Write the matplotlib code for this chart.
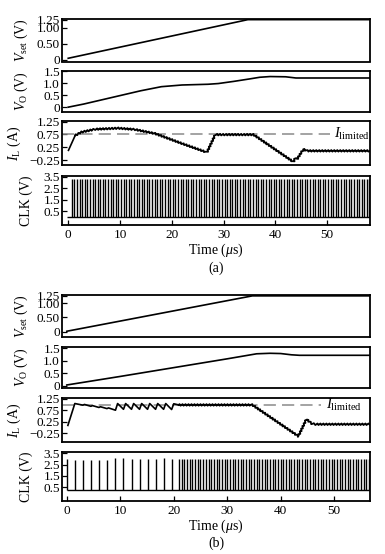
import numpy as np
import matplotlib
matplotlib.use("Agg")
import matplotlib.pyplot as plt

plt.rcParams["font.family"] = ["Liberation Serif", "DejaVu Serif"]
plt.rcParams["mathtext.fontset"] = "custom"
plt.rcParams["mathtext.rm"] = "Liberation Serif"
plt.rcParams["mathtext.it"] = "Liberation Serif:italic"
plt.rcParams["font.size"] = 9

# ---------------- data ----------------
# (a)
a_xlim = (-1.2, 58.3)
a_vset_t = [0, 34.7, 58.3]
a_vset_v = [0.05, 1.25, 1.25]
a_vo_t = [0, 3, 6, 10, 14, 18, 22, 27, 29, 32, 35, 37, 39, 42, 44, 58.3]
a_vo_v = [0.0, 0.13, 0.28, 0.48, 0.68, 0.85, 0.92, 0.95, 0.98, 1.07, 1.17, 1.24, 1.27, 1.26, 1.21, 1.21]
a_il_rise_t = [0.05, 1.35]
a_il_rise_i = [0.13, 0.71]
a_il_t = [1.35, 2.6, 5.2, 9.7, 12.9, 16.8, 21.9, 26.8, 28.4, 35.8, 43.5, 43.9, 44.2, 45.4, 46.2, 58.3]
a_il_i = [0.71, 0.84, 0.95, 0.99, 0.94, 0.78, 0.40, 0.05, 0.74, 0.74, -0.32, -0.16, -0.22, 0.17, 0.11, 0.11]
a_ilim = 0.76
a_ilim_end = 50.5
a_clk_period = 0.5
a_clk_start = 0.7
a_clk_low, a_clk_high = 0.03, 3.3

# (b)
b_xlim = (-0.9, 56.7)
b_vset_t = [0, 34.7, 56.7]
b_vset_v = [0.02, 1.25, 1.25]
b_vo_t = [0, 10, 20, 30, 35.5, 38, 40, 42, 43.5, 56.7]
b_vo_v = [0.04, 0.38, 0.73, 1.08, 1.28, 1.30, 1.29, 1.24, 1.22, 1.22]
b_il_tooth_t = [0.2, 1.5, 3.0, 3.3, 4.5, 4.8, 6.0, 6.3, 7.5, 7.8, 9.1, 9.5, 10.6, 11.0, 12.1,
                12.5, 13.6, 14.0, 15.1, 15.5, 16.6, 17.0, 18.1, 18.5, 19.6, 20.0, 20.9]
b_il_tooth_i = [0.10, 1.05, 0.98, 1.01, 0.93, 0.96, 0.88, 0.91, 0.83, 0.86, 0.76, 1.05, 0.80, 1.05, 0.80,
                1.05, 0.80, 1.05, 0.80, 1.05, 0.80, 1.05, 0.80, 1.05, 0.79, 1.04, 0.99]
b_il_t = [20.9, 34.7, 43.3, 44.8, 45.8, 46.5, 56.7]
b_il_i = [0.99, 0.99, -0.37, 0.37, 0.18, 0.15, 0.15]
b_ilim = 1.0
b_ilim_end = 47.6
b_clk_slow = [0.1, 1.6, 3.1, 4.6, 6.1, 7.6, 9.1, 10.6, 12.1, 13.6, 15.1, 16.6, 18.1, 19.6]
b_clk_slow_h = [3.0, 2.9, 2.9, 2.9, 2.9, 2.9, 3.05, 3.05, 2.95, 2.95, 2.95, 3.0, 3.05, 2.95]
b_clk_period = 0.5
b_clk_dense_start = 21.0
b_clk_low, b_clk_high = 0.23, 2.95

# ---------------- layout ----------------
W, H = 385, 554
fig = plt.figure(figsize=(W / 100, H / 100), dpi=100)
L, R = 62, 370
LAB = 10


def add_ax(top, bot, xlim):
    ax = fig.add_axes([L / W, 1 - bot / H, (R - L) / W, (bot - top) / H])
    ax.set_xlim(*xlim)
    for s in ax.spines.values():
        s.set_linewidth(1.3)
    ax.tick_params(direction="in", length=3.5, width=0.9, labelsize=9.5, pad=1.5)
    ax.tick_params(axis="x", pad=3)
    ax.set_xticks([0, 10, 20, 30, 40, 50])
    return ax


def draw_group(tops, xlim, vset, vo, il_parts, ilim, ilim_end, clk, ylims, label, lab_y):
    axs = [add_ax(t, b, xlim) for t, b in tops]
    a1, a2, a3, a4 = axs
    a1.plot(*vset, color="k", lw=1.2)
    a1.set_ylim(*ylims[0])
    a1.set_yticks([0, 0.5, 1.0, 1.25])
    a1.set_yticklabels(["0", "0.50", "1.00", "1.25"])
    a1.set_ylabel(r"$V_{\mathrm{set}}$ (V)", fontsize=LAB)

    a2.plot(*vo, color="k", lw=1.2)
    a2.set_ylim(*ylims[1])
    a2.set_yticks([0, 0.5, 1.0, 1.5])
    a2.set_yticklabels(["0", "0.5", "1.0", "1.5"])
    a2.set_ylabel(r"$V_{\mathrm{O}}$ (V)", fontsize=LAB)

    a3.plot([xlim[0], ilim_end], [ilim, ilim], color="#8a8a8a", lw=1.1, ls=(0, (8, 4)))
    for t, i, rough in il_parts:
        if rough:
            ln, = a3.plot(t, i, color="k", lw=1.3)
            ln.set_sketch_params(0.9, 1.5, 1.0)
        else:
            a3.plot(t, i, color="k", lw=1.2)
    a3.text(ilim_end + 0.9, ilim, r"$I_{\mathrm{limited}}$", fontsize=10.5, va="center", ha="left")
    a3.set_ylim(*ylims[2])
    a3.set_yticks([-0.25, 0.25, 0.75, 1.25])
    a3.set_yticklabels(["\u22120.25", "0.25", "0.75", "1.25"])
    a3.set_ylabel(r"$I_{\mathrm{L}}$ (A)", fontsize=LAB)

    times, lows, highs = clk
    a4.hlines(lows, xlim[0] + 1.0, xlim[1], color="k", lw=1.0)
    a4.vlines(times, lows, highs, color="k", lw=1.0)
    a4.set_ylim(*ylims[3])
    a4.set_yticks([0.5, 1.5, 2.5, 3.5])
    a4.set_ylabel("CLK (V)", fontsize=LAB)
    a4.set_xlabel(r"Time ($\mu$s)", fontsize=LAB, labelpad=0.5)

    for ax in axs[:3]:
        ax.tick_params(axis="x", length=0, labelbottom=False)
    for ax, lx in zip(axs, [-0.104, -0.104, -0.125, -0.095]):
        ax.yaxis.set_label_coords(lx, 0.5)
    fig.text((L + R) / 2 / W, 1 - lab_y / H, label, ha="center", va="center", fontsize=LAB)


# clock pulse trains
a_clk_t = np.arange(a_clk_start, a_xlim[1], a_clk_period)
b_clk_t = np.concatenate([b_clk_slow, np.arange(b_clk_dense_start, b_xlim[1], b_clk_period)])
b_clk_h = np.concatenate([b_clk_slow_h, np.full(len(b_clk_t) - len(b_clk_slow), b_clk_high)])

draw_group(
    [(19, 61.5), (71, 112), (121, 165), (176, 225)], a_xlim,
    (a_vset_t, a_vset_v), (a_vo_t, a_vo_v),
    [(a_il_rise_t, a_il_rise_i, False), (a_il_t, a_il_i, True)],
    a_ilim, a_ilim_end,
    (a_clk_t, a_clk_low, a_clk_high),
    [(-0.05, 1.27), (-0.2, 1.5), (-0.44, 1.27), (-0.68, 3.55)],
    "(a)", 268,
)

draw_group(
    [(295, 337), (347, 388), (398, 442), (452, 501)], b_xlim,
    (b_vset_t, b_vset_v), (b_vo_t, b_vo_v),
    [(b_il_tooth_t, b_il_tooth_i, False), (b_il_t, b_il_i, True)],
    b_ilim, b_ilim_end,
    (b_clk_t, b_clk_low, b_clk_h),
    [(-0.18, 1.28), (-0.08, 1.55), (-0.62, 1.29), (-0.7, 3.6)],
    "(b)", 543,
)

fig.savefig("out.png", dpi=100, facecolor="white")
